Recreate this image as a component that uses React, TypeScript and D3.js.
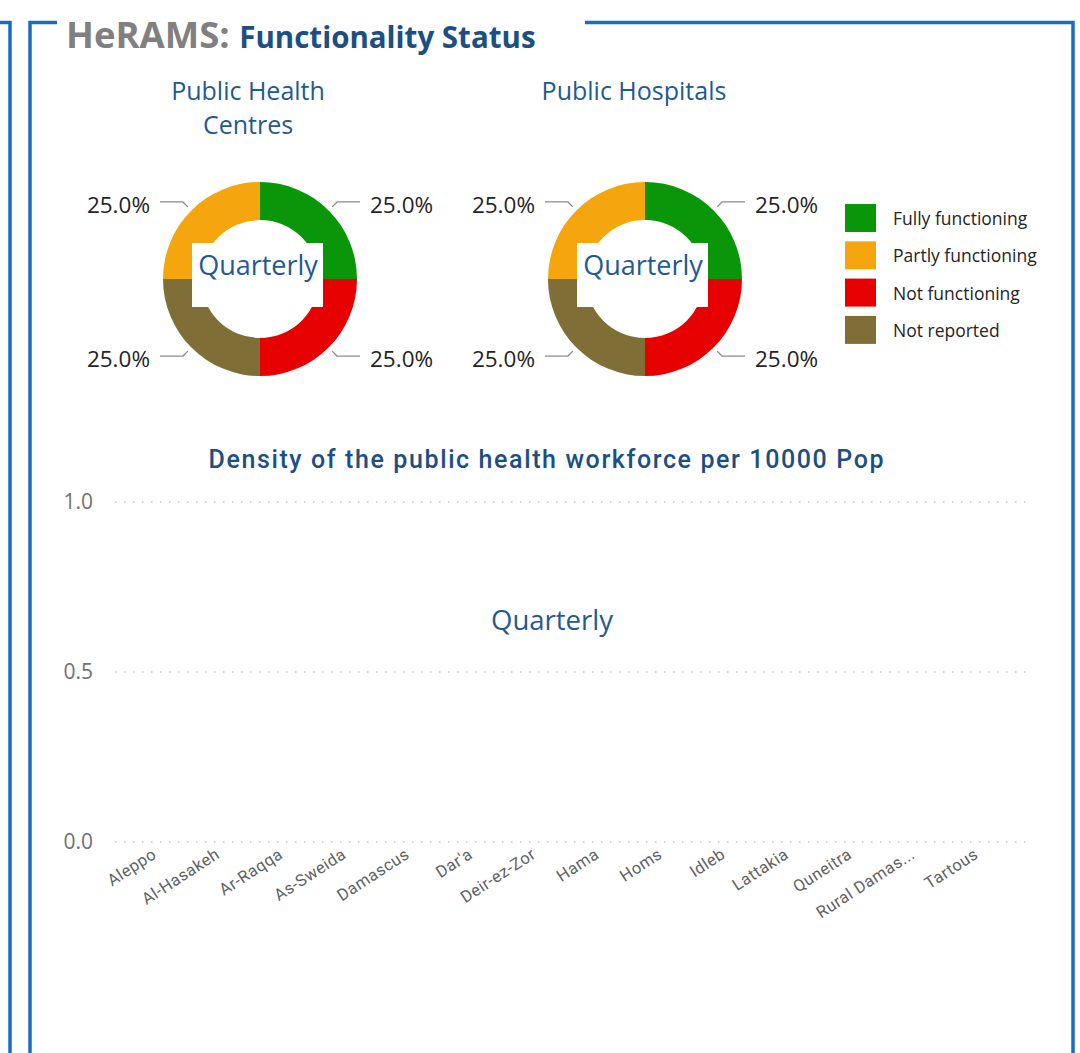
import * as d3 from 'd3'

const statusLabels = ['Fully functioning', 'Partly functioning', 'Not functioning', 'Not reported']
const statusColors = ['#0a9609', '#f5a50e', '#e60000', '#7f6f37']
// clockwise order of the slices starting at 12 o'clock
const sliceOrder = ['Fully functioning', 'Not functioning', 'Not reported', 'Partly functioning']

const healthCentreShares = [25, 25, 25, 25]
const hospitalShares = [25, 25, 25, 25]

const governorates = [
  'Aleppo', 'Al-Hasakeh', 'Ar-Raqqa', 'As-Sweida', 'Damascus', "Dar'a", 'Deir-ez-Zor',
  'Hama', 'Homs', 'Idleb', 'Lattakia', 'Quneitra', 'Rural Damas...', 'Tartous',
]
const workforceDensity = [0, 0, 0, 0, 0, 0, 0, 0, 0, 0, 0, 0, 0, 0]
const yTicks = [0, 0.5, 1]

const W = 1080
const H = 1053
const FRAME = '#1a6cc2'
const TITLE_BLUE = '#1f5a93'
const SEGOE = '"Open Sans", "Noto Sans", sans-serif'
const DIN = 'Roboto, "DejaVu Sans", sans-serif'

const R_OUT = 97
const R_IN = 59

const Donut = ({ cx, cy, shares }: { cx: number, cy: number, shares: number[] }) => {
  const rows = statusLabels.map((s, i) => ({ status: s, value: shares[i], color: statusColors[i] }))
  const pie = d3.pie<any>()
    .value(d => d.value)
    .sort((a, b) => sliceOrder.indexOf(a.status) - sliceOrder.indexOf(b.status))
  const arc = d3.arc<any>().innerRadius(R_IN).outerRadius(R_OUT)
  const total = d3.sum(shares)
  const arcs = pie(rows)

  return (
    <g transform={`translate(${cx},${cy})`}>
      {arcs.map((a, i) => (
        <path key={i} d={arc(a) as string} fill={a.data.color} />
      ))}
      {arcs.map((a, i) => {
        const mid = (a.startAngle + a.endAngle) / 2
        const sx = Math.sin(mid), sy = -Math.cos(mid)
        const side = sx >= 0 ? 1 : -1
        const p1 = [sx * 102, sy * 102]
        const p2 = [sx * 109, sy * 109]
        const p3 = [side * 100, p2[1]]
        return (
          <g key={'l' + i}>
            <polyline points={[p1, p2, p3].map(p => p.join(',')).join(' ')}
              fill="none" stroke="#8c8c8c" strokeWidth={1.3} />
            <text x={side * 110} y={p2[1] + 3} dy="0.35em" textAnchor={side > 0 ? 'start' : 'end'}
              fontFamily={SEGOE} fontSize={22.5} fill="#252423">
              {d3.format('.1%')(a.data.value / total)}
            </text>
          </g>
        )
      })}
      <rect x={-68} y={-36} width={131} height={64} fill="#fff" />
      <text x={-2} y={-13} dy="0.35em" textAnchor="middle" fontFamily={SEGOE} fontSize={27} fill={TITLE_BLUE}>
        Quarterly
      </text>
    </g>
  )
}

const BarChart = () => {
  const x = d3.scaleBand<string>().domain(governorates).range([115, 1000])
  const y = d3.scaleLinear().domain([0, 1]).range([842, 502])
  return (
    <g>
      <text x={546} y={459} dy="0.35em" textAnchor="middle" fontFamily={DIN} fontWeight={500}
        fontSize={25} textLength={675} lengthAdjust="spacing" fill="#1c4f82">
        Density of the public health workforce per 10000 Pop
      </text>
      {yTicks.map(t => (
        <g key={t}>
          <line x1={115} x2={1030} y1={y(t)} y2={y(t)} stroke="#c6c6c6" strokeWidth={1.5}
            strokeDasharray="1.5,7.5" />
          <text x={93} y={y(t)} dy="0.35em" textAnchor="end" fontFamily={SEGOE} fontSize={21} fill="#707070">
            {d3.format('.1f')(t)}
          </text>
        </g>
      ))}
      {governorates.map((g, i) => (
        <rect key={'b' + g} x={(x(g) as number) + 8} width={x.bandwidth() - 16}
          y={y(workforceDensity[i])} height={y(0) - y(workforceDensity[i])} fill="#118dff" />
      ))}
      {governorates.map(g => {
        const tx = (x(g) as number) + x.bandwidth() / 2 + 11
        return (
          <text key={g} transform={`translate(${tx},857) rotate(-33)`} textAnchor="end"
            fontFamily={DIN} fontSize={16.5} letterSpacing={0.5} fill="#626262">
            {g}
          </text>
        )
      })}
      <text x={552} y={620} dy="0.35em" textAnchor="middle" fontFamily={SEGOE} fontSize={27.5} fill={TITLE_BLUE}>
        Quarterly
      </text>
    </g>
  )
}

const Legend = () => (
  <g>
    {statusLabels.map((s, i) => (
      <g key={s} transform={`translate(845,${204 + i * 37.3})`}>
        <rect width={31} height={28} fill={statusColors[i]} />
        <text x={48} y={15} dy="0.35em" fontFamily={SEGOE} fontSize={17.5} fill="#252423">{s}</text>
      </g>
    ))}
  </g>
)

export default function App() {
  return (
    <svg width={W} height={H} style={{ position: 'absolute', left: 0, top: 0, background: '#fff' }}>
      <rect width={W} height={H} fill="#fff" />
      {/* frames */}
      <path d={`M0,22.5 H10 V${H}`} fill="none" stroke={FRAME} strokeWidth={3.5} />
      <path d={`M30,${H} V22.5 H57`} fill="none" stroke={FRAME} strokeWidth={3.5} />
      <path d={`M585,22.5 H1073 V${H}`} fill="none" stroke={FRAME} strokeWidth={3.5} />

      <text x={66} y={48} fontFamily={SEGOE} fontWeight={700} fontSize={36.5} fill="#808080">
        HeRAMS: <tspan fontSize={29.5} fill="#1c4f82">Functionality Status</tspan>
      </text>

      <text x={248} y={100} textAnchor="middle" fontFamily={SEGOE} fontSize={25} fill={TITLE_BLUE}>Public Health</text>
      <text x={248} y={134} textAnchor="middle" fontFamily={SEGOE} fontSize={25} fill={TITLE_BLUE}>Centres</text>
      <text x={634} y={100} textAnchor="middle" fontFamily={SEGOE} fontSize={25} fill={TITLE_BLUE}>Public Hospitals</text>

      <Donut cx={260} cy={279} shares={healthCentreShares} />
      <Donut cx={645} cy={279} shares={hospitalShares} />
      <Legend />
      <BarChart />
    </svg>
  )
}
